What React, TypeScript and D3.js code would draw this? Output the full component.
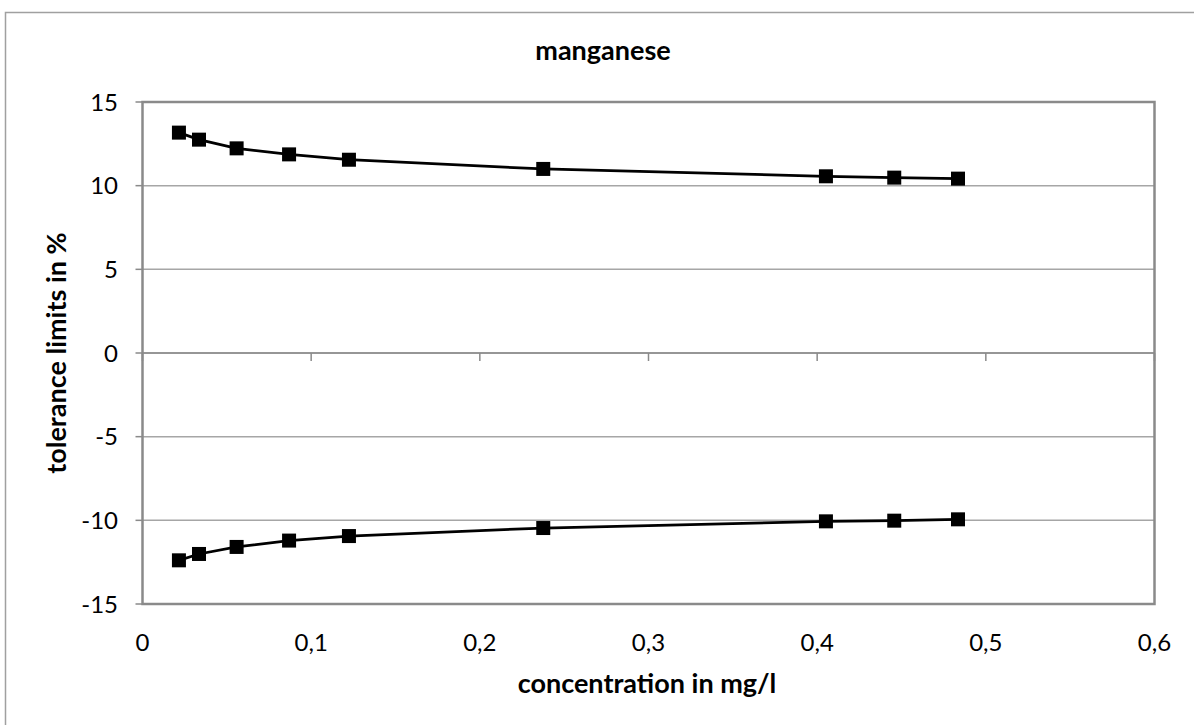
import React from 'react'
import * as d3 from 'd3'

// manganese tolerance limits
const concentration = [0.0216, 0.0335, 0.0558, 0.0869, 0.1224, 0.2376, 0.4052, 0.4457, 0.4835]
const upperLimit = [13.17, 12.75, 12.23, 11.87, 11.55, 11.0, 10.56, 10.48, 10.42]
const lowerLimit = [-12.39, -12.01, -11.59, -11.21, -10.94, -10.46, -10.06, -10.02, -9.94]
const xTicks = [0, 0.1, 0.2, 0.3, 0.4, 0.5, 0.6]
const yTicks = [-15, -10, -5, 0, 5, 10, 15]

const W = 1194
const H = 725
const margin = { top: 102, right: 1194 - 1154.5, bottom: 725 - 604, left: 142.5 }
const font = 'Lato, "Open Sans", sans-serif'

const App = () => {
  const x = d3.scaleLinear().domain([0, 0.6]).range([margin.left, W - margin.right])
  const y = d3.scaleLinear().domain([-15, 15]).range([H - margin.bottom, margin.top])
  const fmt = (v: number) => d3.format('.1~f')(v).replace('.', ',')

  const line = d3.line<number>()
    .x((_, i) => x(concentration[i]))
    .y(d => y(d))

  const series = [upperLimit, lowerLimit]
  const ms = 14

  return (
    <svg width={W} height={H} style={{ position: 'absolute', left: 0, top: 0, background: '#fff' }}>
      {/* chart frame */}
      <rect x={5.5} y={12.5} width={W + 10} height={H + 10} fill='#fff' stroke='#a0a0a0' strokeWidth={1.5} />

      {/* horizontal gridlines */}
      {yTicks.map(t => (
        <line key={'g' + t} x1={x(0)} x2={x(0.6)} y1={y(t)} y2={y(t)} stroke='#a6a6a6' strokeWidth={1.5} />
      ))}
      {/* y ticks */}
      {yTicks.map(t => (
        <line key={'yt' + t} x1={x(0) - 7} x2={x(0)} y1={y(t)} y2={y(t)} stroke='#8a8a8a' strokeWidth={1.5} />
      ))}
      {/* plot area border */}
      <rect x={x(0)} y={y(15)} width={x(0.6) - x(0)} height={y(-15) - y(15)} fill='none' stroke='#8a8a8a' strokeWidth={2.5} />
      {/* x axis at zero with ticks */}
      <line x1={x(0)} x2={x(0.6)} y1={y(0)} y2={y(0)} stroke='#8a8a8a' strokeWidth={1.5} />
      {xTicks.map(t => (
        <line key={'xt' + t} x1={x(t)} x2={x(t)} y1={y(0)} y2={y(0) + 8} stroke='#8a8a8a' strokeWidth={1.5} />
      ))}

      {/* tick labels */}
      {yTicks.map(t => (
        <text key={'yl' + t} x={118} y={y(t)} dy='0.36em' textAnchor='end' fontFamily={font} fontSize={24} fill='#000'>{t}</text>
      ))}
      {xTicks.map(t => (
        <text key={'xl' + t} x={x(t)} y={651} textAnchor='middle' fontFamily={font} fontSize={24} fill='#000'>{fmt(t)}</text>
      ))}

      {/* series */}
      {series.map((s, si) => (
        <g key={'s' + si}>
          <path d={line(s) ?? ''} fill='none' stroke='#000' strokeWidth={2.75} />
          {s.map((v, i) => (
            <rect key={i} x={x(concentration[i]) - ms / 2} y={y(v) - ms / 2} width={ms} height={ms} fill='#000' />
          ))}
        </g>
      ))}

      {/* titles */}
      <text x={603} y={60} textAnchor='middle' fontFamily={font} fontSize={27} fontWeight='bold' fill='#000'>manganese</text>
      <text x={647} y={693} textAnchor='middle' fontFamily={font} fontSize={27} fontWeight='bold' fill='#000'>concentration in mg/l</text>
      <text transform={`translate(66,${y(0)}) rotate(-90)`} textAnchor='middle' fontFamily={font} fontSize={27} fontWeight='bold' fill='#000'>tolerance limits in %</text>
    </svg>
  )
}

export default App
